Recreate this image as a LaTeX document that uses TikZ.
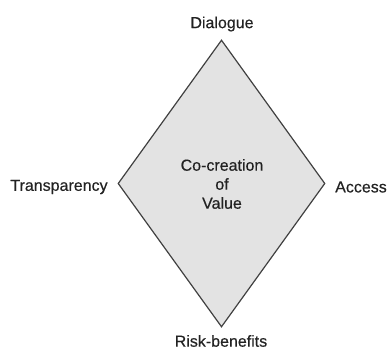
\documentclass[tikz,border=0pt]{standalone}
\usepackage{fontspec}
\setmainfont{Liberation Sans}
\newfontfamily\lblfont[FakeBold=0.4]{Liberation Sans}
\usetikzlibrary{shapes.geometric}
\definecolor{txt}{HTML}{222222}
\definecolor{fillg}{HTML}{E3E3E3}
\definecolor{edge}{HTML}{404040}
\tikzset{
  lbl/.style={inner sep=0pt, text=txt, font=\lblfont\fontsize{16pt}{19pt}\selectfont},
  dia/.style={shape=diamond, draw=edge, fill=fillg, line width=1.2pt, inner sep=0pt,
              minimum width=207pt, minimum height=287pt}
}
\begin{document}
\begin{tikzpicture}[x=1pt,y=1pt]
\useasboundingbox (0,0) rectangle (389,350);
\node[dia] (d) at (221.5,166.5) {};
\node[lbl, align=center] (c) at (222,166) {Co-creation\\of\\Value};
\node[lbl] (top) at (222,326) {Dialogue};
\node[lbl] (left) at (59,163) {Transparency};
\node[lbl] (right) at (361,163) {Access};
\node[lbl] (bot) at (221,9) {Risk-benefits};
\end{tikzpicture}
\end{document}
